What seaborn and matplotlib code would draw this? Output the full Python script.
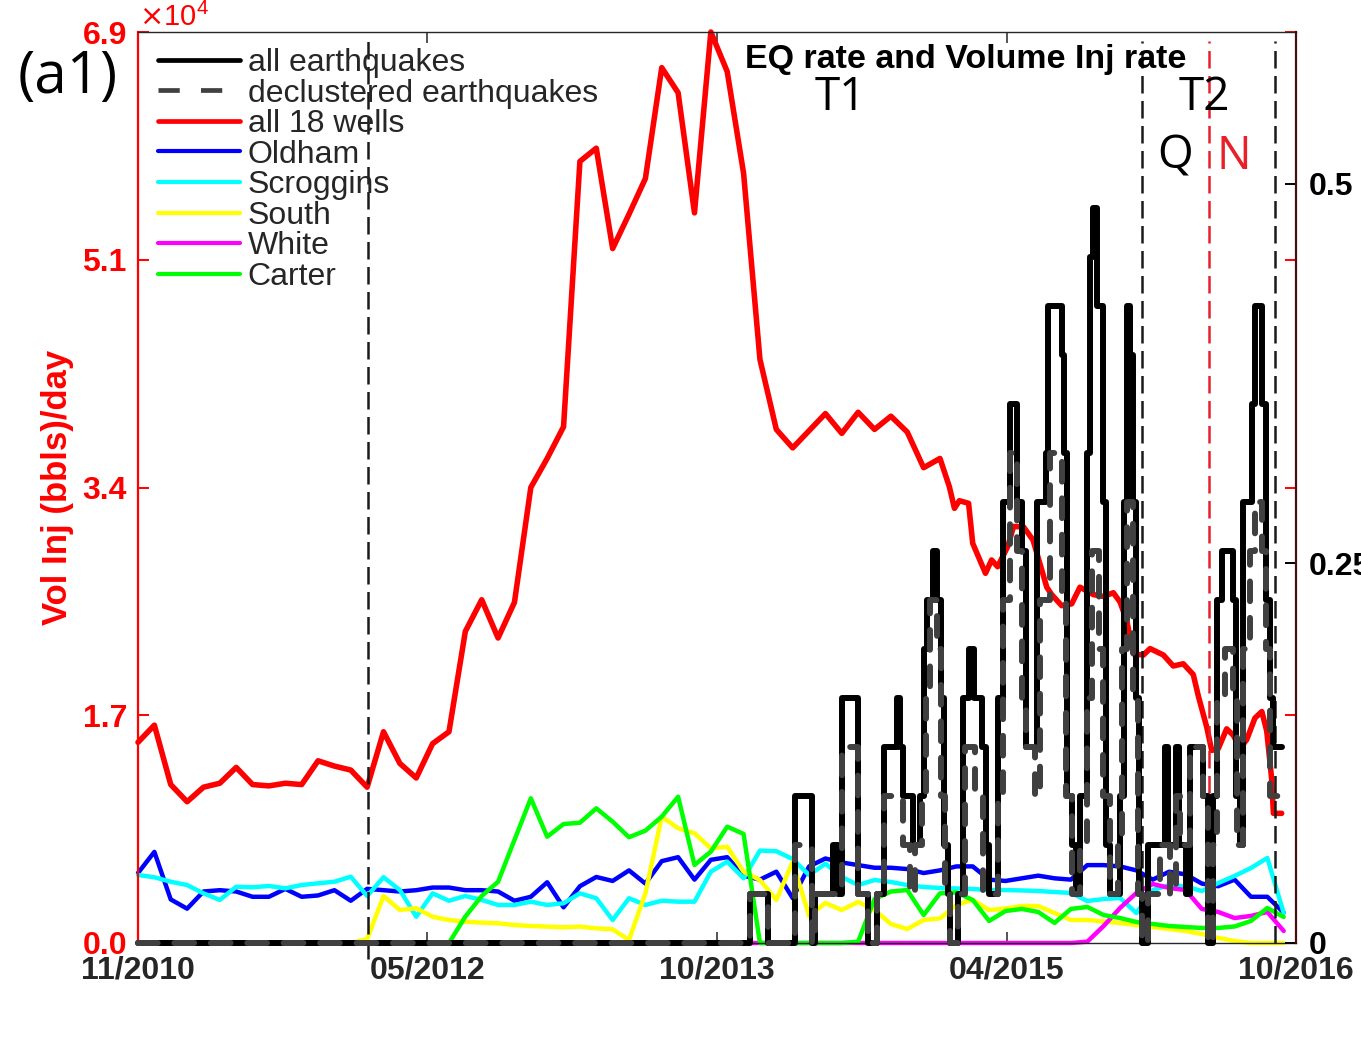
import numpy as np
import matplotlib
matplotlib.use("Agg")
import matplotlib.pyplot as plt
from matplotlib.lines import Line2D
from matplotlib.transforms import blended_transform_factory
import seaborn as sns

# ---------------- data ----------------
# Monthly injection rates (bbls/day); first sample Nov 2010 (decimal year 2010.875)
month_start = 2010.875
n_months = 71

# all 18 wells: monthly samples through late 2014, then denser reporting
all_wells_monthly = [15200, 16500, 12000, 10700, 11800, 12100, 13300, 12000, 11900, 12100,
                     12000, 13800, 13400, 13100, 11800, 16000, 13600, 12500, 15100, 16000,
                     23600, 26000, 23100, 25800, 34500, 36700, 39100, 59200, 60200, 52600,
                     55200, 57900, 66300, 64400, 55300, 69000, 66000, 58300, 44200, 38900,
                     37500, 38800, 40100, 38600, 40200, 38900, 39900, 38700, 36000, 36700]
all_wells_late_years = [2015.006, 2015.032, 2015.057, 2015.104, 2015.125, 2015.190, 2015.221,
                        2015.252, 2015.303, 2015.333, 2015.384, 2015.432, 2015.502, 2015.527,
                        2015.578, 2015.629, 2015.671, 2015.739, 2015.790, 2015.841, 2015.875,
                        2015.909, 2015.943, 2015.994, 2016.028, 2016.096, 2016.146, 2016.197,
                        2016.248, 2016.274, 2016.316, 2016.342, 2016.376, 2016.418, 2016.452,
                        2016.486, 2016.520, 2016.562, 2016.597, 2016.622, 2016.647, 2016.656,
                        2016.698]
all_wells_late = [34560, 32920, 33500, 33300, 30270, 28000, 29010, 28500, 30020, 31550,
                  31510, 30520, 26950, 26390, 25550, 25690, 26950, 26390, 26250, 26530,
                  25830, 24430, 21900, 21810, 22300, 21810, 20980, 21150, 20330, 18690,
                  16380, 14580, 14750, 16220, 15730, 14750, 15400, 17040, 17530, 16060,
                  12440, 9820, 9820]

oldham = [5300, 6900, 3300, 2600, 3900, 4000, 3900, 3500, 3500, 4100, 3500, 3600, 4000, 3200,
          4100, 4000, 3900, 4000, 4200, 4200, 4000, 4000, 3900, 3200, 3500, 4600, 2700, 4300,
          5000, 4700, 5500, 4500, 6200, 6500, 4800, 6300, 6500, 5100,
          4800, 5400, 3400, 5800, 6400, 6100, 5900, 5700, 5700, 5600, 5300, 5500, 5800, 5800,
          4800, 4700, 4900, 5100, 4900, 4800, 5900, 5900, 5800, 5500, 4800, 5400, 5200, 4500,
          4300, 4800, 3500, 3500, 2300]
scroggins = [5150, 4980, 4640, 4390, 3760, 3260, 4260, 4220, 4320, 4140, 4390, 4520, 4640, 5020,
             3560, 4980, 4010, 1990, 3760, 3200, 3560, 3260, 2880, 2880, 3130, 2880, 3010, 3760,
             3390, 1740, 3390, 2880, 3200, 3130, 3130, 5400, 6160, 4900,
             7000, 6950, 6360, 5150, 6000, 5000, 4390, 4770, 4620, 4390, 4240, 4170, 4130, 4090,
             4010, 4010, 3980, 3940, 3860, 3790, 3180, 3330, 3410, 2270, 4010, 4390, 4280, 3940,
             4540, 5080, 5680, 6440, 2270]
south = [0, 0, 0, 0, 0, 0, 0, 0, 0, 0, 0, 0, 0, 0, 300,
         3560, 2500, 2630, 1990, 1740, 1610, 1540, 1490, 1360, 1290, 1240, 1190, 1240, 1110,
         1040, 230, 3760, 9570, 8690, 8310, 7170, 7290, 5400,
         4770, 3260, 6140, 2050, 3030, 2500, 3110, 2500, 1440, 1060, 1740, 1860, 2880, 3260,
         2500, 2610, 2800, 2800, 2270, 1740, 1740, 1630, 1520, 1360, 1210, 1060, 910, 680,
         380, 150, 0, 0, 0]
white = [0] * 58 + [100, 1290, 2650, 3790, 4470, 4170, 4010, 2580, 2350, 1890, 2050, 2350, 910]
carter = [0] * 20 + [2000, 3560, 4640, 7800, 10960, 8050, 9010, 9110, 10200, 9190, 8010, 8510,
                     9570, 11080, 5910, 6920, 8810, 8260,
                     0, 0, 0, 0, 0, 0, 100, 3330, 3900, 4010, 2120, 3760, 3830, 3260, 1670,
                     2420, 2580, 2350, 1520, 2580, 2730, 2120, 1890, 1590, 1440, 1290, 1210,
                     1140, 1140, 1250, 1670, 2650, 1970]

# Earthquake counts in a moving 31-day window (value holds until next change)
window_days = 31
eq_all_years = [2010.875, 2013.991, 2014.083, 2014.220, 2014.307, 2014.322, 2014.414, 2014.439,
                2014.460, 2014.541, 2014.592, 2014.638, 2014.673, 2014.740, 2014.755, 2014.770,
                2014.821, 2014.857, 2014.877, 2014.892, 2014.923, 2014.943, 2014.964, 2014.979,
                2014.999, 2015.009, 2015.050, 2015.076, 2015.106, 2015.132, 2015.172, 2015.193,
                2015.208, 2015.254, 2015.279, 2015.315, 2015.351, 2015.376, 2015.396, 2015.452,
                2015.498, 2015.508, 2015.580, 2015.590, 2015.605, 2015.631, 2015.651, 2015.671,
                2015.707, 2015.722, 2015.737, 2015.758, 2015.788, 2015.804, 2015.824, 2015.875,
                2015.895, 2015.911, 2015.926, 2015.941, 2015.956, 2015.972, 2015.987, 2016.018,
                2016.104, 2016.119, 2016.160, 2016.175, 2016.211, 2016.231, 2016.298, 2016.323,
                2016.349, 2016.369, 2016.394, 2016.450, 2016.466, 2016.486, 2016.501, 2016.547,
                2016.563, 2016.598, 2016.618, 2016.639, 2016.654, 2016.700]
eq_all_counts = [0, 1, 0, 3, 0, 1, 2, 1,
                 5, 1, 0, 1, 4, 5, 4, 3,
                 2, 3, 6, 7, 8, 7, 5, 2,
                 1, 0, 1, 5, 6, 5, 4, 2,
                 1, 5, 9, 11, 9, 8, 4, 9,
                 10, 13, 12, 10, 3, 2, 1, 3,
                 10, 14, 15, 13, 9, 2, 1, 3,
                 9, 13, 12, 9, 5, 1, 0, 2,
                 4, 2, 4, 2, 1, 4, 3, 0,
                 3, 7, 8, 7, 3, 2, 9, 11,
                 13, 11, 7, 5, 4, 4]
eq_decl_years = [2010.875, 2013.991, 2014.083, 2014.220, 2014.307, 2014.322, 2014.460, 2014.541,
                 2014.592, 2014.638, 2014.673, 2014.770, 2014.806, 2014.831, 2014.867, 2014.887,
                 2014.908, 2014.943, 2014.964, 2014.984, 2015.009, 2015.050, 2015.086, 2015.137,
                 2015.177, 2015.254, 2015.279, 2015.315, 2015.351, 2015.376, 2015.396, 2015.442,
                 2015.468, 2015.519, 2015.580, 2015.600, 2015.631, 2015.671, 2015.707, 2015.732,
                 2015.768, 2015.788, 2015.824, 2015.865, 2015.885, 2015.911, 2015.941, 2015.967,
                 2015.987, 2016.018, 2016.079, 2016.130, 2016.160, 2016.180, 2016.231, 2016.298,
                 2016.323, 2016.349, 2016.369, 2016.410, 2016.450, 2016.471, 2016.501, 2016.537,
                 2016.563, 2016.598, 2016.618, 2016.639, 2016.700]
eq_decl_counts = [0, 1, 0, 2, 0, 1, 4, 1,
                  0, 1, 3, 2, 1, 2, 3, 5,
                  7, 6, 3, 1, 0, 1, 4, 3,
                  1, 3, 7, 10, 8, 5, 4, 3,
                  7, 10, 7, 3, 1, 2, 5, 8,
                  6, 3, 1, 2, 6, 9, 5, 1,
                  0, 1, 2, 1, 3, 2, 4, 3,
                  0, 2, 5, 6, 5, 2, 6, 8,
                  9, 8, 6, 3, 3]

# Period boundaries and axis labelling
period_lines_black = [2012.046, 2015.987, 2016.664]
period_line_red = 2016.328
x_range = (2010.875, 2016.771)
x_tick_labels = ["11/2010", "05/2012", "10/2013", "04/2015", "10/2016"]
left_max = 69000
left_tick_labels = ["0.0", "1.7", "3.4", "5.1", "6.9"]
right_max = 0.6
right_ticks = [0, 0.25, 0.5]
right_tick_labels = ["0", "0.25", "0.5"]

# ---------------- figure ----------------
sns.set_theme(style="white")
plt.rcParams["font.family"] = ["Liberation Sans", "DejaVu Sans"]

W, H = 1361, 1039
fig = plt.figure(figsize=(W / 100, H / 100), dpi=100)
ax = fig.add_axes([138 / W, 1 - 943 / H, 1158 / W, 911 / H])
ax2 = ax.twinx()

well_years = month_start + np.arange(n_months) / 12.0
red_years = np.concatenate([well_years[:len(all_wells_monthly)], all_wells_late_years])
red_vals = np.concatenate([all_wells_monthly, all_wells_late])

wells = [("Oldham", oldham, "#0000ff"),
         ("Scroggins", scroggins, "#00ffff"),
         ("South", south, "#ffff00"),
         ("White", white, "#ff00ff"),
         ("Carter", carter, "#00ff00")]

for name, vals, col in wells:
    sns.lineplot(x=well_years, y=np.asarray(vals, float), color=col, lw=3.2,
                 estimator=None, ax=ax, clip_on=False, solid_joinstyle="round")
sns.lineplot(x=red_years, y=red_vals, color="#ff0000", lw=4.0, estimator=None,
             ax=ax, clip_on=False, solid_joinstyle="round")

# earthquake rate (events/day) on the right axis
sns.lineplot(x=eq_all_years, y=np.asarray(eq_all_counts) / window_days, color="black",
             lw=4.3, drawstyle="steps-post", estimator=None, ax=ax2, clip_on=False,
             solid_joinstyle="round", zorder=3)
sns.lineplot(x=eq_decl_years, y=np.asarray(eq_decl_counts) / window_days, color="#404040",
             lw=4.3, drawstyle="steps-post", estimator=None, ax=ax2, clip_on=False,
             linestyle=(0, (3.3, 2.8)), dash_capstyle="round", zorder=4)

# period boundaries
for i, xv in enumerate(period_lines_black):
    ax2.axvline(xv, ymin=(-0.018 if i == 0 else 0), ymax=0.99, color="#1a1a1a", lw=1.8,
                linestyle=(0, (7, 3)), clip_on=False, zorder=2)
ax2.axvline(period_line_red, ymin=0, ymax=0.99, color="#e8202a", lw=1.8,
            linestyle=(0, (7, 3)), zorder=2)

# axes limits / ticks
ax.set_xlim(*x_range)
ax.set_ylim(0, left_max)
ax2.set_ylim(0, right_max)
ax.set_xticks(np.linspace(x_range[0], x_range[1], 5))
ax.set_xticklabels(x_tick_labels, fontsize=23, fontweight="bold", color="#262626")
ax.set_yticks(np.linspace(0, left_max, 5))
ax.set_yticklabels(left_tick_labels, fontsize=23, fontweight="bold", color="red")
ax2.set_yticks(right_ticks)
ax2.set_yticklabels(right_tick_labels, fontsize=23, fontweight="bold", color="black")
ax.set_xlabel("")
ax.set_ylabel("")
ax2.set_ylabel("")

ax.tick_params(axis="x", direction="in", top=True, bottom=True, length=8, width=1.1,
               color="#262626", pad=9)
ax.tick_params(axis="y", direction="in", left=True, right=True, labelright=False,
               length=8, width=1.4, color="red", pad=8)
ax2.tick_params(axis="y", direction="in", right=True, length=8, width=1.4,
                color="black", pad=9)

for s in ("left", "top", "bottom"):
    ax2.spines[s].set_visible(False)
ax.spines["right"].set_visible(False)
ax.spines["left"].set_color("red")
ax.spines["left"].set_linewidth(1.6)
ax.spines["top"].set_color("#262626")
ax.spines["top"].set_linewidth(1.0)
ax.spines["bottom"].set_color("#262626")
ax.spines["bottom"].set_linewidth(1.0)
ax2.spines["right"].set_color("#4a0d0d")
ax2.spines["right"].set_linewidth(1.6)

# y label and exponent
fig.text(57 / W, 1 - 487 / H, "Vol Inj (bbls)/day", rotation=90, ha="center", va="center",
         fontsize=25, fontweight="bold", color="red")
fig.text(139 / W, 1 - 26 / H, r"$\times\mathregular{10^{4}}$", ha="left", va="baseline",
         fontsize=21, color="red")

# annotations
trans = blended_transform_factory(ax.transData, ax.transAxes)
ax2.text(0.715, 0.970, "EQ rate and Volume Inj rate", transform=ax.transAxes,
         ha="center", va="center", fontsize=24.5, fontweight="bold", color="black", zorder=6)
ann_font = ["Open Sans", "DejaVu Sans"]
ax2.text(2014.449, 0.9276, "T1", transform=trans, ha="center", va="center", fontsize=33,
         family=ann_font, color="black")
ax2.text(2016.303, 0.9276, "T2", transform=trans, ha="center", va="center", fontsize=33,
         family=ann_font, color="black")
ax2.text(2016.155, 0.8628, "Q", transform=trans, ha="center", va="center", fontsize=33,
         family=ann_font, color="black")
ax2.text(2016.456, 0.8628, "N", transform=trans, ha="center", va="center", fontsize=33,
         family=ann_font, color="#e8202a")
fig.text(68 / W, 1 - 78 / H, "(a1)", ha="center", va="center", fontsize=42,
         family=ann_font, color="black")

# legend
handles = [Line2D([], [], color="black", lw=3.4),
           Line2D([], [], color="#404040", lw=3.4, linestyle=(0, (4.5, 4.5))),
           Line2D([], [], color="#ff0000", lw=3.4),
           Line2D([], [], color="#0000ff", lw=3.0),
           Line2D([], [], color="#00ffff", lw=3.0),
           Line2D([], [], color="#ffff00", lw=3.0),
           Line2D([], [], color="#ff00ff", lw=3.0),
           Line2D([], [], color="#00ff00", lw=3.0)]
labels = ["all earthquakes", "declustered earthquakes", "all 18 wells", "Oldham",
          "Scroggins", "South", "White", "Carter"]
leg = ax2.legend(handles, labels, loc="upper left", bbox_to_anchor=(158 / W, 1 - 48 / H),
                 bbox_transform=fig.transFigure, frameon=False, fontsize=23,
                 handlelength=2.57, handletextpad=0.24, labelspacing=0.017,
                 borderpad=0, borderaxespad=0)
leg.set_zorder(10)

fig.savefig("out.png", dpi=100)
